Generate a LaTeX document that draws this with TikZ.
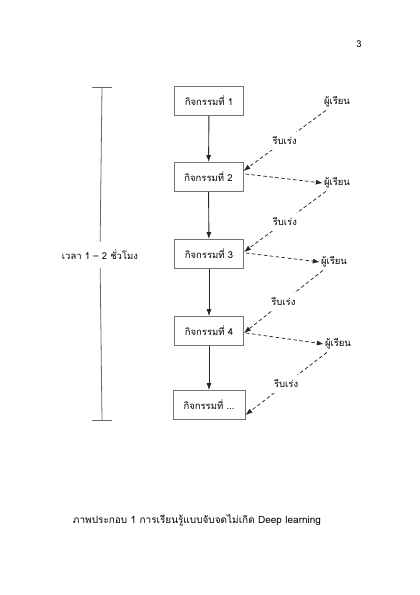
\documentclass[tikz,border=0pt]{standalone}
\usepackage{fontspec}
\newfontfamily\thaifont[Script=Thai]{Loma}
\usetikzlibrary{arrows.meta}
\begin{document}
\begin{tikzpicture}[x=1pt,y=-1pt,
  txt/.style={font=\thaifont\fontsize{9.5}{11}\selectfont, text=black},
  box/.style={txt, draw=black!55, line width=0.8pt, minimum width=69pt, minimum height=29pt, inner sep=0pt, fill=white},
  learner/.style={txt, inner sep=1pt},
  rush/.style={txt, fill=white, inner sep=5pt},
  flow/.style={-{Latex[length=7pt,width=5pt]}, draw=black!85, line width=0.9pt},
  dasharrow/.style={dash pattern=on 3.5pt off 2.5pt, -{Latex[length=7pt,width=5pt]}, draw=black!85, line width=0.75pt},
  brack/.style={draw=black!60, line width=0.8pt}]
\useasboundingbox (0,0) rectangle (420,595);
\node[txt] (pg) at (359,44) {3};
% boxes
\node[box] (b1) at (209,101) {กิจกรรมที่ 1};
\node[box] (b2) at (208.5,177) {กิจกรรมที่ 2};
\node[box] (b3) at (209,254) {กิจกรรมที่ 3};
\node[box] (b4) at (209,331) {กิจกรรมที่ 4};
\node[box, minimum width=72pt] (b5) at (209,405) {กิจกรรมที่ ...};
% learners
\node[learner] (l1) at (337,102) {ผู้เรียน};
\node[learner] (l2) at (337,183) {ผู้เรียน};
\node[learner] (l3) at (334,262) {ผู้เรียน};
\node[learner] (l4) at (338,344) {ผู้เรียน};
% vertical flow
\draw[flow] (b1) -- (b2);
\draw[flow] (b2) -- (b3);
\draw[flow] (b3) -- (b4);
\draw[flow] (b4) -- (b5);
% box to learner
\draw[dasharrow] ([xshift=2pt,yshift=3pt]b2.east) -- (l2.west);
\draw[dasharrow] ([xshift=2pt,yshift=1pt]b3.east) -- (l3.west);
\draw[dasharrow] ([xshift=2pt,yshift=-2pt]b4.east) -- (l4.west);
% learner to next box, through "rush"
\draw[dasharrow] ([xshift=3pt,yshift=-2pt]l1.south west) -- node[rush] (r1) {รีบเร่ง} ([yshift=6pt]b2.east);
\draw[dasharrow] ([xshift=3pt,yshift=-2pt]l2.south west) -- node[rush] (r2) {รีบเร่ง} ([yshift=2pt]b3.east);
\draw[dasharrow] ([xshift=3pt,yshift=-2pt]l3.south west) -- node[rush] (r3) {รีบเร่ง} ([yshift=-2pt]b4.east);
\draw[dasharrow] ([xshift=3pt,yshift=-2pt]l4.south west) -- node[rush] (r4) {รีบเร่ง} ([yshift=-10pt]b5.east);
% time bracket
\coordinate (bt) at (102,87);
\coordinate (bb) at (102,420);
\node[txt, inner ysep=8pt, inner xsep=1pt] (tl) at (100,255) {เวลา 1 – 2 ชั่วโมง};
\draw[brack] (bt) -- (tl) -- (bb);
\draw[brack] ([xshift=-10pt]bt) -- ([xshift=10pt]bt);
\draw[brack] ([xshift=-10pt]bb) -- ([xshift=10pt]bb);
% caption
\node[txt, font=\thaifont\fontsize{10}{12}\selectfont] (cap) at (197,520) {ภาพประกอบ 1 การเรียนรู้แบบจับจดไม่เกิด Deep learning};
\end{tikzpicture}
\end{document}
